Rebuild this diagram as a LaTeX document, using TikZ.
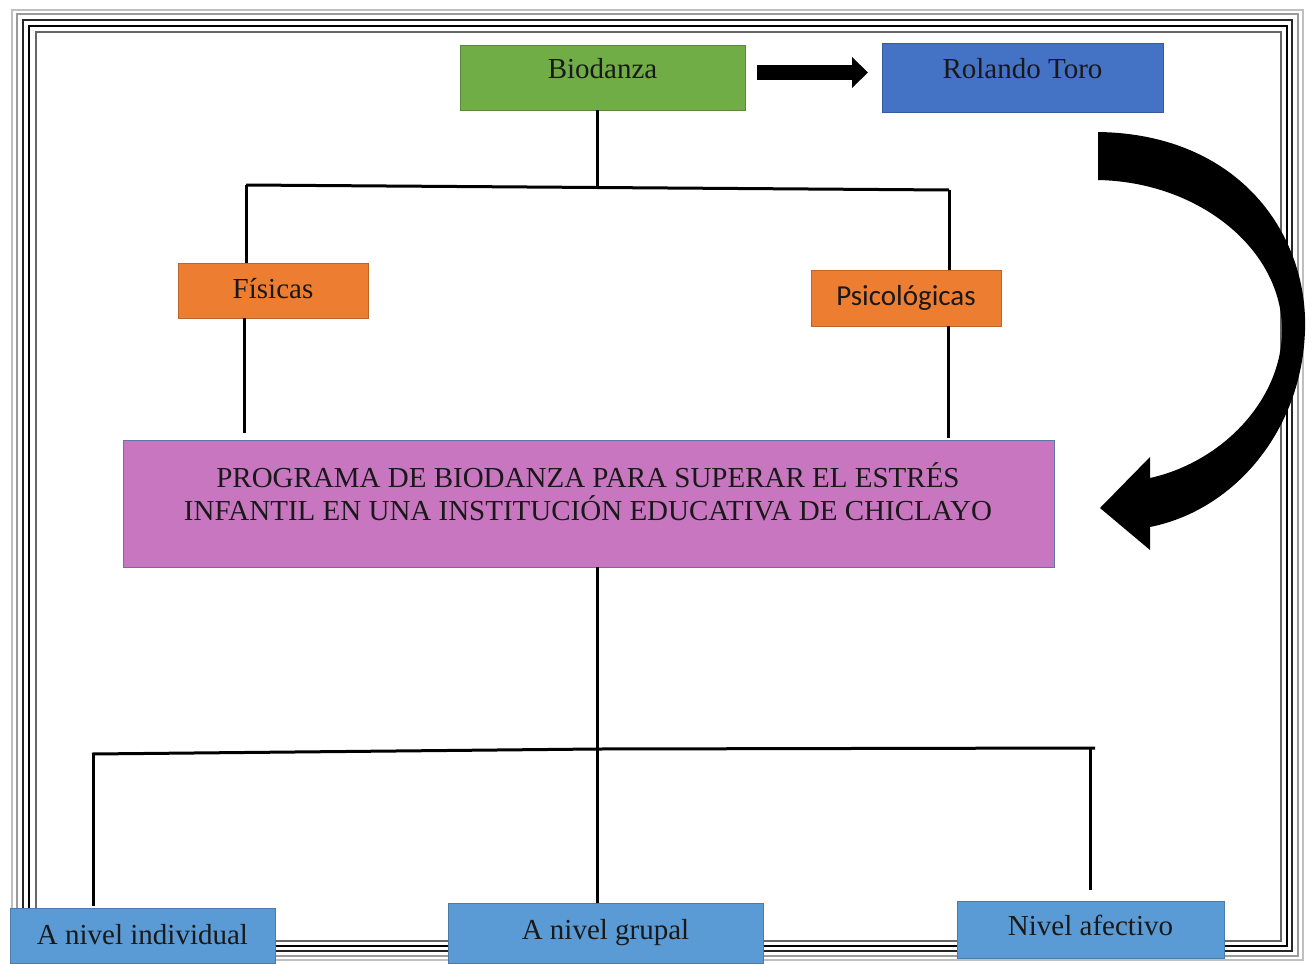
\documentclass[tikz,border=0pt]{standalone}
\usepackage{fontspec}
\setmainfont{Liberation Serif}
\newfontfamily\calibri{Carlito}
\usetikzlibrary{arrows.meta,calc}
\definecolor{cgreen}{HTML}{70AD47}
\definecolor{cblue}{HTML}{4472C4}
\definecolor{corange}{HTML}{ED7D31}
\definecolor{cpink}{HTML}{C876C0}
\definecolor{clblue}{HTML}{5B9BD5}
\definecolor{cframe}{HTML}{9A9A9A}
\begin{document}
\begin{tikzpicture}[x=1pt,y=-1pt,
  boxbase/.style={rectangle,inner sep=0pt,font=\fontsize{29}{33}\selectfont,text=black!90},
  greenbox/.style={boxbase,fill=cgreen,draw=cgreen!80!black,line width=0.6pt},
  bluebox/.style={boxbase,fill=cblue,draw=cblue!80!black,line width=0.6pt},
  orangebox/.style={boxbase,fill=corange,draw=corange!80!black,line width=0.6pt},
  pinkbox/.style={boxbase,fill=cpink,draw=cblue!60!gray,line width=0.8pt},
  lbluebox/.style={boxbase,fill=clblue,draw=clblue!80!black,line width=0.6pt},
  conn/.style={line width=3pt,black},
  framel/.style={line width=1.2pt}]
\useasboundingbox (0,0) rectangle (1313,963);
\fill[white] (0,0) rectangle (1313,963);
% frame
\draw[framel,black!25] (12,10) rectangle (1303,960);
\draw[framel,cframe] (17,14) rectangle (1298,956);
\draw[framel,black!85] (23,20) rectangle (1292,951);
\draw[line width=1.8pt,black] (29,26) rectangle (1287,946);
\draw[framel,black!60] (36,32) rectangle (1281,941);
% nodes
\node[greenbox,minimum width=285,minimum height=65] (bio) at (602.5,77.5) {\raisebox{18pt}{Biodanza}};
\node[bluebox,minimum width=281,minimum height=69] (rol) at (1022.5,77.5) {\raisebox{18pt}{Rolando Toro}};
\node[orangebox,minimum width=190,minimum height=55] (fis) at (273,290.5) {\raisebox{5pt}{Físicas}};
\node[orangebox,minimum width=190,minimum height=56,font=\calibri\fontsize{29}{33}\selectfont] (psi) at (906,298) {\raisebox{1pt}{Psicológicas}};
\node[pinkbox,minimum width=931,minimum height=127] (main) at (588.5,503.5) {};
\node[boxbase,align=center] (maintext) at (588,492) {PROGRAMA DE BIODANZA PARA SUPERAR EL ESTRÉS\\INFANTIL EN UNA INSTITUCIÓN EDUCATIVA DE CHICLAYO};
\node[lbluebox,minimum width=265,minimum height=55] (ind) at (142.5,935.5) {\raisebox{2pt}{A nivel individual}};
\node[lbluebox,minimum width=315,minimum height=60] (gru) at (605.5,933) {\raisebox{6pt}{A nivel grupal}};
\node[lbluebox,minimum width=267,minimum height=57] (afe) at (1090.5,929.5) {\raisebox{9pt}{Nivel afectivo}};
% straight arrow
\coordinate (a1) at (757,72.5);
\coordinate (a2) at (868,72.5);
\draw[line width=15pt,-{Triangle[length=16pt,width=30pt]}] (a1) -- (a2);
% top tree
\coordinate (t1) at (597,187);
\coordinate (hl) at (246,185);
\coordinate (hr) at (949,190);
\draw[conn] (bio.south -| t1) -- (t1);
\draw[conn] (hl) -- (hr);
\draw[conn] (hl) -- (hl |- fis.north);
\draw[conn] (hr) -- (hr |- psi.north);
\coordinate (fl) at (244,433);
\coordinate (pl) at (948,438);
\draw[conn] (fl |- fis.south) -- (fl);
\draw[conn] (pl |- psi.south) -- (pl);
% bottom tree
\coordinate (b0) at (597,749);
\coordinate (bl) at (92,754);
\coordinate (br) at (1095,748);
\draw[conn] (main.south -| b0) -- (b0);
\draw[conn] (bl) -- (b0) -- (br);
\coordinate (bl2) at (93,754);
\coordinate (bm2) at (597,749);
\coordinate (br2) at (1090,748);
\draw[conn] (bl2) -- (93,906);
\draw[conn] (bm2) -- (bm2 |- gru.north);
\draw[conn] (br2) -- (1090,890);
% curved arrow
\fill[black] (1098,132) .. controls (1240,134) and (1308,235) .. (1305,330)
  .. controls (1302,430) and (1235,510) .. (1150,527)
  -- (1150,550) -- (1100,508) -- (1150,457) -- (1150,478)
  .. controls (1222,462) and (1282,400) .. (1282,330)
  .. controls (1282,250) and (1200,182) .. (1098,180) -- cycle;
\end{tikzpicture}
\end{document}
